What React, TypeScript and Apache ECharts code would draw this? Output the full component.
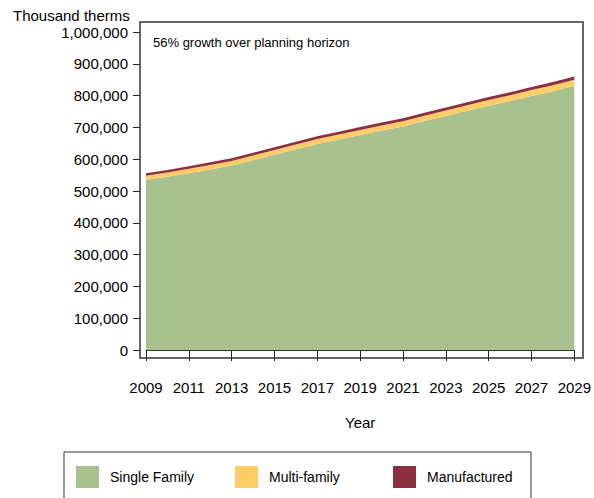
import React, { useEffect, useRef } from "react";
import * as echarts from "echarts";

const years = [
  "2009", "2010", "2011", "2012", "2013", "2014", "2015", "2016", "2017", "2018", "2019",
  "2020", "2021", "2022", "2023", "2024", "2025", "2026", "2027", "2028", "2029",
];

const singleFamily = [
  535000, 545000, 556000, 568000, 580000, 597000, 614000, 631000, 648000, 662000, 676000,
  690000, 703000, 720000, 736000, 752000, 768000, 783000, 799000, 814000, 831000,
];

const multiFamily = [
  13000, 13300, 13600, 13900, 14200, 14500, 14800, 15100, 15400, 15700, 16000,
  16300, 16600, 16900, 17200, 17500, 17800, 18100, 18400, 18700, 19000,
];

const manufactured = [
  8000, 8100, 8200, 8300, 8400, 8500, 8600, 8700, 8800, 8900, 9000,
  9100, 9200, 9300, 9400, 9500, 9600, 9700, 9800, 9900, 10000,
];

const seriesNames = ["Single Family", "Multi-family", "Manufactured"];
const seriesColors = ["#A9C18F", "#FFCC66", "#8C3040"];
const legendLefts = [76, 235, 393];

const yTicks = { min: 0, max: 1000000, interval: 100000 };
const FONT = "'Liberation Sans', Arial, Helvetica, sans-serif";

export default function App() {
  const ref = useRef<HTMLDivElement>(null);

  useEffect(() => {
    if (!ref.current) return;
    const chart = echarts.init(ref.current, undefined, { renderer: "svg" });
    const dataSets = [singleFamily, multiFamily, manufactured];
    chart.setOption({
      animation: false,
      textStyle: { fontFamily: FONT },
      grid: { left: 146, right: 16, top: 32, bottom: 148, containLabel: false },
      legend: seriesNames.map((name, i) => ({
        left: legendLefts[i],
        top: 466,
        padding: 0,
        orient: "horizontal",
        itemWidth: 23,
        itemHeight: 22,
        icon: "rect",
        data: [name],
        textStyle: {
          fontFamily: FONT,
          fontSize: 14,
          color: "#000",
          padding: [6, 0, 0, 6],
        },
      })),
      xAxis: {
        type: "category",
        data: years,
        boundaryGap: false,
        offset: 8,
        name: "Year",
        nameLocation: "middle",
        nameGap: 57,
        nameTextStyle: { fontFamily: FONT, fontSize: 15, color: "#000" },
        axisLine: { show: true, lineStyle: { color: "#333", width: 1 } },
        axisTick: {
          show: true,
          inside: false,
          interval: 1,
          length: 11,
          lineStyle: { color: "#222", width: 1 },
        },
        axisLabel: {
          interval: 1,
          margin: 22,
          fontFamily: FONT,
          fontSize: 15,
          color: "#000",
        },
        splitLine: { show: false },
      },
      yAxis: {
        type: "value",
        min: yTicks.min,
        max: yTicks.max,
        interval: yTicks.interval,
        offset: 6,
        axisLine: { show: false },
        axisTick: { show: true, length: 7, lineStyle: { color: "#222", width: 1 } },
        axisLabel: {
          margin: 12,
          fontFamily: FONT,
          fontSize: 15,
          color: "#000",
          formatter: (v: number) => v.toLocaleString("en-US"),
        },
        splitLine: { show: false },
      },
      series: seriesNames.map((name, i) => ({
        name,
        type: "line",
        stack: "total",
        data: dataSets[i],
        showSymbol: false,
        symbol: "none",
        lineStyle: { width: 0, color: seriesColors[i] },
        itemStyle: { color: seriesColors[i] },
        areaStyle: { color: seriesColors[i], opacity: 1 },
      })),
      graphic: [
        {
          type: "rect",
          z: 100,
          shape: { x: 140, y: 22, width: 443, height: 336 },
          style: { fill: "none", stroke: "#333", lineWidth: 1.5 },
        },
        {
          type: "text",
          x: 13,
          y: 15,
          style: {
            text: "Thousand therms",
            font: `15px ${FONT}`,
            fill: "#000",
            verticalAlign: "middle",
          },
        },
        {
          type: "text",
          x: 153,
          y: 42,
          style: {
            text: "56% growth over planning horizon",
            font: `13px ${FONT}`,
            fill: "#000",
            verticalAlign: "middle",
          },
        },
        {
          type: "rect",
          shape: { x: 64, y: 452, width: 467, height: 60 },
          style: { fill: "none", stroke: "#333", lineWidth: 1 },
        },
      ],
    });
    return () => chart.dispose();
  }, []);

  return (
    <div
      ref={ref}
      style={{ position: "absolute", left: 0, top: 0, width: 594, height: 498 }}
    />
  );
}
